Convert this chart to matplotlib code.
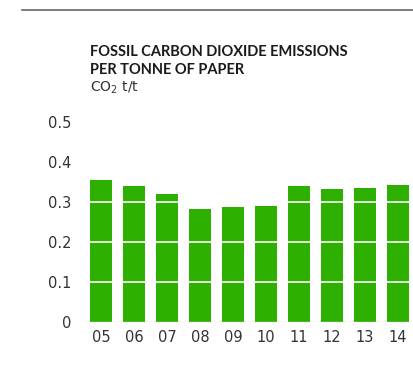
import matplotlib
matplotlib.use("Agg")
import matplotlib.pyplot as plt
from matplotlib.lines import Line2D

years = ["05", "06", "07", "08", "09", "10", "11", "12", "13", "14"]
values = [0.355, 0.340, 0.320, 0.283, 0.288, 0.290, 0.340, 0.333, 0.335, 0.343]
yticks = [0, 0.1, 0.2, 0.3, 0.4, 0.5]
ytick_labels = ["0", "0.1", "0.2", "0.3", "0.4", "0.5"]

W, H = 414, 374
fig = plt.figure(figsize=(W / 100, H / 100), dpi=100)
fig.patch.set_facecolor("white")

ax = fig.add_axes([84 / W, 52 / H, (414 - 84) / W, 200 / H])
x = list(range(len(years)))
ax.bar(x, values, width=0.667, color="#2db000", zorder=2)
for yv in [0.1, 0.2, 0.3]:
    ax.axhline(yv, color="white", lw=1.2, zorder=3)
ax.axhline(0, color="#b8e0a8", lw=1.0, zorder=3)
ax.set_xlim(-0.515, 9.485)
ax.set_ylim(0, 0.5)
ax.set_xticks(x)
ax.set_xticklabels(years)
ax.set_yticks(yticks)
ax.set_yticklabels(ytick_labels)
for s in ax.spines.values():
    s.set_visible(False)
ax.tick_params(length=0, labelsize=10.5, colors="#333333", pad=6)
ax.tick_params(axis="y", pad=9)
for lab in ax.get_xticklabels() + ax.get_yticklabels():
    lab.set_family("DejaVu Sans")

fig.add_artist(Line2D([22 / W, 1.0], [1 - 10 / H, 1 - 10 / H], color="#666666", lw=1.2))
fig.text(90 / W, 1 - 56 / H, "FOSSIL CARBON DIOXIDE EMISSIONS", fontsize=10.5,
         fontweight="bold", color="#1a1a1a", family="Lato", va="baseline")
fig.text(90 / W, 1 - 74 / H, "PER TONNE OF PAPER", fontsize=10.5,
         fontweight="bold", color="#1a1a1a", family="Lato", va="baseline")
fig.text(90 / W, 1 - 92 / H, "CO$_2$ t/t", fontsize=10, color="#333333",
         family="DejaVu Sans", va="baseline")

fig.savefig("out.png", dpi=100)
